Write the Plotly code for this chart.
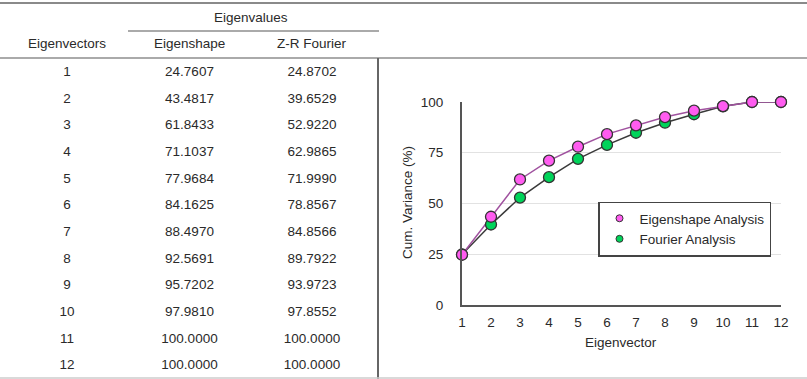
import plotly.graph_objects as go

# ---- data ----
eigenvectors = list(range(1, 13))
eigenshape = [24.7607, 43.4817, 61.8433, 71.1037, 77.9684, 84.1625,
              88.4970, 92.5691, 95.7202, 97.9810, 100.0000, 100.0000]
zr_fourier = [24.8702, 39.6529, 52.9220, 62.9865, 71.9990, 78.8567,
              84.8566, 89.7922, 93.9723, 97.8552, 100.0000, 100.0000]
col_headers = ["Eigenvectors", "Eigenshape", "Z-R Fourier"]
group_header = "Eigenvalues"
y_ticks = [0, 25, 50, 75, 100]

W, H = 807, 379
FONT = "Liberation Sans, Arial, sans-serif"
TXT = "#2a2a2a"
PINK = "#ff5cf0"
GREEN = "#00d45a"


def px(x):
    return x / W


def py(y):
    return 1 - y / H


fig = go.Figure()

# legend entries (small markers, hidden under the big ones)
fig.add_trace(go.Scatter(x=eigenvectors, y=eigenshape, mode="markers",
                         name="Eigenshape Analysis", legendrank=1,
                         marker=dict(color=PINK, size=7, line=dict(color="#333333", width=1)),
                         hoverinfo="skip", cliponaxis=False))
fig.add_trace(go.Scatter(x=eigenvectors, y=zr_fourier, mode="markers",
                         name="Fourier Analysis", legendrank=2,
                         marker=dict(color=GREEN, size=7, line=dict(color="#333333", width=1)),
                         hoverinfo="skip", cliponaxis=False))

# ---- chart ----
fig.add_trace(go.Scatter(x=eigenvectors, y=zr_fourier, mode="lines",
                         line=dict(color="#3a3a3a", width=1.5),
                         showlegend=False, hoverinfo="skip", cliponaxis=False))
fig.add_trace(go.Scatter(x=eigenvectors, y=eigenshape, mode="lines",
                         line=dict(color="#a0529f", width=1.5),
                         showlegend=False, hoverinfo="skip", cliponaxis=False))
fig.add_trace(go.Scatter(x=eigenvectors, y=zr_fourier, mode="markers",
                         showlegend=False,
                         marker=dict(color=GREEN, size=11,
                                     line=dict(color="#333333", width=1.3)),
                         cliponaxis=False))
fig.add_trace(go.Scatter(x=eigenvectors, y=eigenshape, mode="markers",
                         showlegend=False,
                         marker=dict(color=PINK, size=11,
                                     line=dict(color="#333333", width=1.3)),
                         cliponaxis=False))

# ---- table (text through a hidden axis system) ----
col_vals = [
    [str(v) for v in eigenvectors],
    [f"{v:.4f}" for v in eigenshape],
    [f"{v:.4f}" for v in zr_fourier],
]
for ci, vals in enumerate(col_vals):
    fig.add_trace(go.Scatter(x=[ci] * len(vals), y=eigenvectors, text=vals,
                             mode="text", xaxis="x2", yaxis="y2",
                             textfont=dict(family=FONT, size=13.5, color=TXT),
                             showlegend=False, hoverinfo="skip", cliponaxis=False))

row_px0, row_step = 72.7, 26.66
head_row = 1 + (43.3 - row_px0) / row_step
group_row = 1 + (17.3 - row_px0) / row_step
col_px0, col_step = 67, 122.5

annotations = []
for ci, h in enumerate(col_headers):
    annotations.append(dict(x=ci, y=head_row, xref="x2", yref="y2", text=h,
                            xanchor="center", yanchor="middle",
                            showarrow=False, font=dict(family=FONT, size=13.5, color=TXT)))
annotations.append(dict(x=1.5, y=group_row, xref="x2", yref="y2", text=group_header,
                        xanchor="center", yanchor="middle",
                        showarrow=False, font=dict(family=FONT, size=13.5, color=TXT)))
# axis titles
annotations.append(dict(x=px(621), y=py(342), xref="paper", yref="paper",
                        text="Eigenvector", showarrow=False,
                        xanchor="center", yanchor="middle",
                        font=dict(family=FONT, size=13.5, color=TXT)))
annotations.append(dict(x=px(407), y=py(203), xref="paper", yref="paper",
                        text="Cum. Variance (%)", showarrow=False, textangle=-90,
                        xanchor="center", yanchor="middle",
                        font=dict(family=FONT, size=13.5, color=TXT)))

shapes = [
    dict(type="line", xref="paper", yref="paper", x0=0, x1=1, y0=py(3), y1=py(3),
         line=dict(color="#8a8a8a", width=2)),
    dict(type="line", xref="paper", yref="paper", x0=px(128), x1=px(379), y0=py(31), y1=py(31),
         line=dict(color="#aaaaaa", width=2)),
    dict(type="line", xref="paper", yref="paper", x0=0, x1=1, y0=py(58), y1=py(58),
         line=dict(color="#aaaaaa", width=2)),
    dict(type="line", xref="paper", yref="paper", x0=px(378), x1=px(378), y0=py(58), y1=0,
         line=dict(color="#666666", width=2)),
    dict(type="line", xref="paper", yref="paper", x0=0, x1=1, y0=py(378), y1=py(378),
         line=dict(color="#cccccc", width=1.5)),
]

fig.update_layout(
    template="none",
    width=W, height=H,
    margin=dict(l=0, r=0, t=0, b=0, pad=0, autoexpand=False),
    paper_bgcolor="white", plot_bgcolor="white",
    font=dict(family=FONT, size=13.5, color=TXT),
    showlegend=True,
    legend=dict(x=px(598), y=py(229), xanchor="left", yanchor="middle",
                bordercolor="#444444", borderwidth=1.5, bgcolor="white",
                font=dict(family=FONT, size=13.5, color=TXT),
                itemsizing="trace", tracegroupgap=0, itemwidth=30),
    xaxis=dict(domain=[px(462), px(781)], range=[1, 12], tickmode="array",
               tickvals=eigenvectors, showgrid=False, zeroline=False,
               showline=True, linecolor="#555555", linewidth=2,
               ticks="", ticklabelstandoff=4, anchor="y", automargin=False),
    yaxis=dict(domain=[py(305), py(102)], range=[0, 100], tickmode="array",
               tickvals=y_ticks, showgrid=True, gridcolor="#e2e2e2", gridwidth=1,
               zeroline=False, showline=True, linecolor="#555555", linewidth=2,
               ticks="", ticklabelstandoff=14, anchor="x", automargin=False),
    xaxis2=dict(domain=[0, px(378)], range=[-col_px0 / col_step, (378 - col_px0) / col_step],
                visible=False, anchor="y2", fixedrange=True, automargin=False),
    yaxis2=dict(domain=[0, 1],
                range=[1 + (H - row_px0) / row_step, 1 - row_px0 / row_step],
                visible=False, anchor="x2", fixedrange=True, automargin=False),
    annotations=annotations,
    shapes=shapes,
)

fig.write_html("out.html",
               config={"displayModeBar": False},
               post_script="document.body.style.margin='0';document.body.style.overflow='hidden';")
